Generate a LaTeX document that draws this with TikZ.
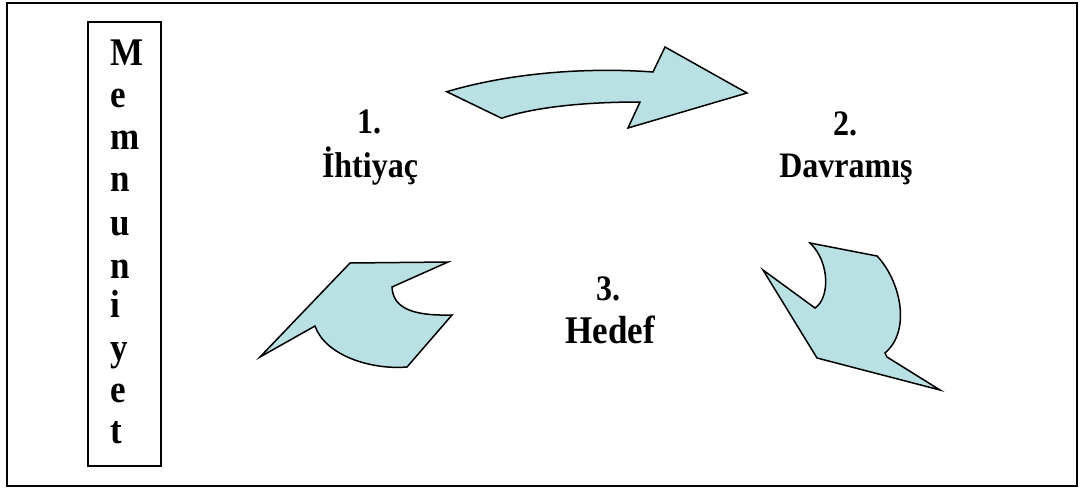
\documentclass[tikz,border=0pt]{standalone}
\usepackage{fontspec}
\setmainfont{Liberation Serif}
\definecolor{arrowfill}{RGB}{185,224,227}
\tikzset{
  bentarrow/.style={fill=arrowfill, draw=black, line width=1.5pt, line join=miter},
  frameline/.style={draw=black, line width=2pt},
  label/.style={font=\fontsize{32}{32}\selectfont\bfseries, inner sep=0pt, anchor=base},
  letter/.style={font=\fontsize{35}{35}\selectfont\bfseries, inner sep=0pt, anchor=base west},
}
\newcommand{\tallt}[1]{\scalebox{1}[1.12]{#1}}
\begin{document}
\begin{tikzpicture}[x=1pt,y=-1pt]
  \useasboundingbox (0,0) rectangle (1081,488);
  % outer frame
  \draw[frameline] (7,3) rectangle (1077,486);
  % side box with the vertical word
  \draw[draw=black, line width=2.8pt] (88,22) rectangle (161,466);
  \foreach \ch/\yy [count=\k] in {M/65,e/107,m/149,n/191,u/235,n/278,i/317,y/360,e/402,t/443}
    \node[letter] (mem\k) at (110,\yy) {\tallt{\ch}};

  % top arrow: from need to behaviour
  \path[bentarrow] (446.7,91.7) -- (501.7,118.3)
    .. controls (525,110) and (570,102) .. (640,102)
    -- (628,128) -- (747,93) -- (665,47) -- (653,72)
    .. controls (600,68) and (520,70) .. (446.7,91.7) -- cycle;

  % right arrow: from behaviour to goal
  \path[bentarrow] (810,243) -- (877,256)
    .. controls (900,280) and (912,330) .. (885,353)
    -- (887,357) -- (940,390) -- (817,358) -- (763,270) -- (815,308)
    .. controls (830,298) and (830,262) .. (810,243) -- cycle;

  % left arrow: from goal back to need
  \path[bentarrow] (350,263) -- (448,262) -- (392,287)
    .. controls (393,308) and (412,316) .. (452,315)
    -- (407,367)
    .. controls (370,370) and (325,355) .. (315,326)
    -- (260,357) -- cycle;

  % stage labels
  \node[label] (n1) at (369,133) {\tallt{1.}};
  \node[label] (t1) at (370,177) {\tallt{İhtiyaç}};
  \node[label] (n2) at (845,135) {\tallt{2.}};
  \node[label] (t2) at (846,177) {\tallt{Davramış}};
  \node[label] (n3) at (608,300) {\tallt{3.}};
  \node[label, font=\fontsize{35}{35}\selectfont\bfseries] (t3) at (610,343) {\tallt{Hedef}};
\end{tikzpicture}
\end{document}
